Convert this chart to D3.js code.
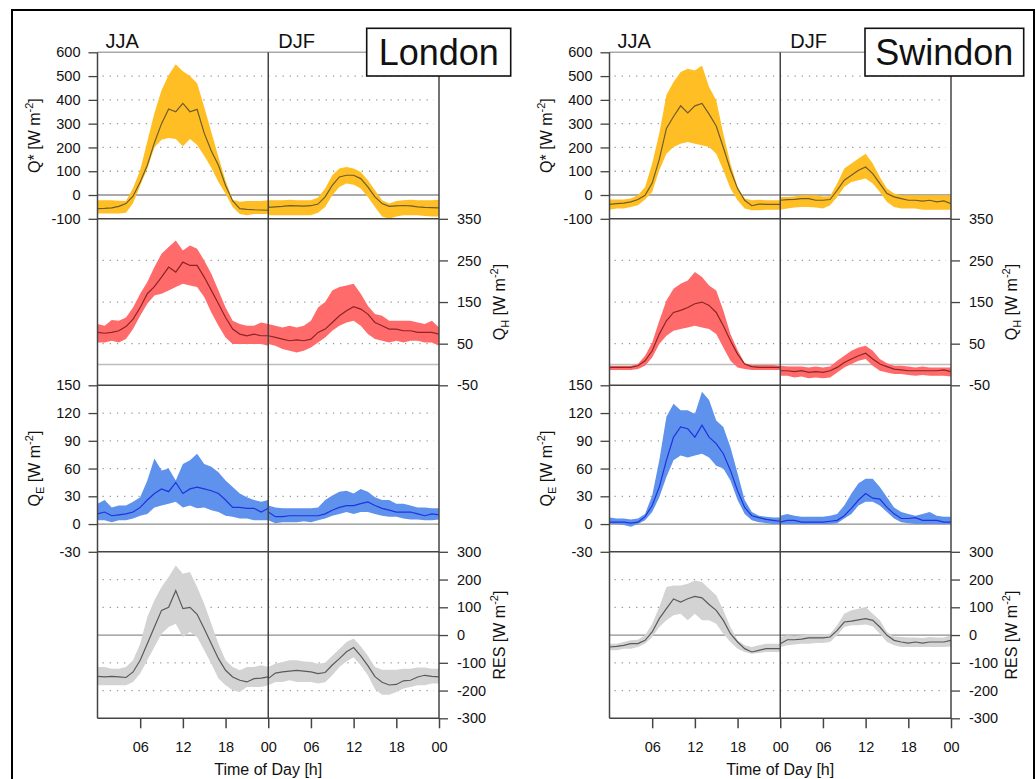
<!DOCTYPE html>
<html>
<head>
<meta charset="utf-8">
<script src="https://cdnjs.cloudflare.com/ajax/libs/d3/7.8.5/d3.min.js"></script>
<style>
	body { margin: 0; background: #fff; }
	svg text { font-family: "Liberation Sans", Arial, Helvetica, sans-serif; fill: #111; }
</style>
</head>
<body>
<svg id="chart" width="1036" height="779"></svg>
<script>
// hour of day, one value per hour (00 .. 24)
const hours = [0, 1, 2, 3, 4, 5, 6, 7, 8, 9, 10, 11, 12, 13, 14, 15, 16, 17, 18, 19, 20, 21, 22, 23, 24]

const hourTicks = [6, 12, 18, 24, 30, 36, 42, 48]
const hourLabels = ['06', '12', '18', '00', '06', '12', '18', '00']
const qsTicks = [-100, 0, 100, 200, 300, 400, 500, 600]
const qhTicks = [-50, 50, 150, 250, 350]
const qeTicks = [-30, 0, 30, 60, 90, 120, 150]
const resTicks = [-300, -200, -100, 0, 100, 200, 300]

// ---- London ----
const lonQsJjaMid = [-57, -56, -54, -48, -36, -5, 55, 125, 220, 300, 362, 350, 385, 350, 360, 260, 185, 125, 40, -25, -57, -60, -62, -63, -64]
const lonQsJjaHi = [-22, -22, -22, -24, -25, 30, 105, 225, 345, 440, 505, 550, 520, 500, 470, 370, 265, 160, 60, -20, -28, -25, -25, -25, -22]
const lonQsJjaLo = [-78, -78, -78, -78, -75, -35, 40, 110, 200, 232, 240, 235, 205, 235, 210, 165, 115, 55, 5, -50, -80, -85, -80, -80, -80]
const lonQsDjfMid = [-52, -50, -48, -45, -46, -47, -45, -38, -8, 41, 76, 83, 83, 69, 34, -8, -36, -48, -46, -44, -46, -50, -52, -53, -54]
const lonQsDjfHi = [-22, -22, -22, -20, -22, -22, -22, -10, 27, 83, 111, 118, 111, 97, 62, 20, -22, -36, -25, -22, -20, -22, -22, -22, -20]
const lonQsDjfLo = [-85, -85, -85, -85, -85, -85, -85, -75, -50, -1, 34, 48, 43, 27, -8, -50, -90, -100, -90, -85, -85, -85, -88, -90, -90]

const lonQhJjaMid = [77, 75, 77, 81, 91, 109, 137, 170, 187, 210, 234, 222, 246, 238, 238, 210, 178, 146, 113, 85, 73, 69, 73, 69, 69]
const lonQhJjaHi = [97, 93, 107, 105, 113, 137, 170, 198, 234, 266, 282, 298, 274, 286, 278, 250, 218, 178, 137, 105, 97, 93, 93, 101, 97]
const lonQhJjaLo = [53, 53, 57, 53, 61, 85, 117, 146, 166, 170, 178, 186, 194, 190, 186, 162, 125, 93, 65, 49, 49, 49, 49, 49, 45]
const lonQhDjfMid = [69, 65, 61, 57, 59, 57, 61, 77, 85, 101, 117, 129, 139, 133, 121, 101, 93, 85, 85, 81, 81, 77, 77, 77, 73]
const lonQhDjfHi = [97, 93, 89, 93, 89, 93, 105, 137, 150, 178, 186, 190, 194, 170, 141, 121, 117, 105, 105, 105, 105, 101, 97, 105, 89]
const lonQhDjfLo = [49, 45, 37, 33, 29, 33, 41, 53, 65, 81, 93, 101, 105, 93, 73, 61, 57, 53, 57, 53, 57, 57, 53, 53, 45]

const lonQeJjaMid = [11, 13, 9, 10, 11, 13, 18, 26, 33, 38, 35, 45, 33, 38, 40, 38, 36, 33, 26, 18, 18, 17, 17, 13, 17]
const lonQeJjaHi = [22, 26, 18, 20, 20, 24, 29, 47, 71, 58, 60, 47, 65, 69, 76, 65, 62, 56, 47, 40, 33, 29, 26, 24, 26]
const lonQeJjaLo = [4, 4, 2, 4, 4, 6, 9, 11, 18, 20, 22, 24, 18, 20, 17, 18, 15, 13, 9, 8, 6, 6, 4, 4, 4]
const lonQeDjfMid = [13, 8, 8, 9, 9, 9, 9, 9, 11, 15, 18, 20, 20, 22, 24, 20, 17, 15, 13, 13, 13, 11, 9, 11, 10]
const lonQeDjfHi = [20, 18, 17, 17, 17, 17, 17, 18, 26, 31, 35, 36, 33, 38, 35, 29, 26, 26, 22, 22, 20, 18, 18, 17, 17]
const lonQeDjfLo = [4, 1, 2, 2, 2, 3, 2, 4, 6, 9, 11, 13, 11, 13, 13, 11, 9, 8, 8, 6, 5, 5, 4, 4, 5]

const lonResJjaMid = [-149, -151, -149, -151, -153, -133, -91, -31, 29, 89, 100, 160, 95, 100, 75, 23, -31, -85, -127, -151, -163, -169, -157, -155, -151]
const lonResJjaHi = [-115, -115, -121, -121, -115, -91, -31, 65, 125, 173, 209, 251, 221, 227, 173, 113, 41, -31, -91, -115, -127, -115, -115, -109, -115]
const lonResJjaLo = [-181, -181, -181, -181, -181, -169, -139, -91, -43, 5, 29, 41, -7, 11, -7, -55, -103, -157, -181, -199, -205, -187, -187, -187, -181]
const lonResDjfMid = [-157, -137, -133, -130, -127, -130, -133, -139, -135, -108, -85, -60, -45, -75, -110, -150, -170, -180, -178, -165, -163, -151, -145, -149, -151]
const lonResDjfHi = [-115, -103, -97, -91, -91, -95, -97, -103, -100, -75, -50, -25, -12, -40, -75, -115, -125, -125, -125, -121, -121, -117, -117, -121, -121]
const lonResDjfLo = [-181, -169, -169, -163, -169, -169, -169, -175, -170, -145, -115, -95, -80, -110, -145, -195, -215, -215, -205, -193, -187, -181, -181, -175, -175]

// ---- Swindon ----
const swiQsJjaMid = [-39, -36, -34, -29, -19, -1, 50, 150, 280, 330, 375, 345, 375, 385, 340, 290, 200, 105, 27, -22, -45, -38, -39, -39, -39]
const swiQsJjaHi = [-19, -19, -19, -15, -1, 34, 132, 260, 420, 475, 517, 531, 524, 545, 454, 398, 258, 132, 34, -15, -22, -20, -22, -22, -22]
const swiQsJjaLo = [-62, -57, -57, -50, -43, -19, 13, 104, 174, 202, 216, 223, 216, 209, 202, 174, 104, 27, -22, -57, -64, -64, -62, -62, -62]
const swiQsDjfMid = [-22, -19, -18, -15, -15, -22, -22, -19, 20, 62, 83, 104, 118, 90, 48, 6, -8, -15, -22, -22, -26, -22, -29, -25, -36]
const swiQsDjfHi = [-8, -8, -6, -1, -1, -1, -6, -5, 48, 111, 132, 153, 174, 132, 76, 27, 6, -1, -1, -1, -1, -1, -1, -1, -1]
const swiQsDjfLo = [-62, -57, -53, -50, -50, -53, -57, -43, -8, 34, 55, 62, 69, 48, 13, -29, -50, -57, -57, -57, -62, -62, -62, -62, -62]

const swiQhJjaMid = [-7, -7, -7, -7, -3, 9, 33, 73, 105, 125, 130, 137, 146, 150, 142, 125, 93, 57, 25, 1, -5, -7, -7, -7, -7]
const swiQhJjaHi = [-3, -3, -3, -3, 1, 21, 53, 105, 154, 182, 194, 202, 222, 210, 190, 178, 130, 73, 35, 3, -1, -1, -1, -1, -3]
const swiQhJjaLo = [-13, -13, -13, -13, -11, -3, 17, 49, 69, 81, 85, 89, 93, 89, 85, 73, 41, 9, -7, -11, -13, -13, -13, -13, -13]
const swiQhDjfMid = [-15, -15, -17, -15, -19, -17, -19, -15, -7, 5, 13, 21, 27, 13, 1, -5, -11, -13, -15, -15, -15, -15, -15, -13, -17]
const swiQhDjfHi = [-3, -5, -5, -5, -7, -5, -7, -5, 9, 21, 33, 41, 45, 33, 13, 3, -3, -3, -5, -7, -5, -7, -7, -7, -7]
const swiQhDjfLo = [-27, -27, -31, -29, -33, -31, -33, -31, -19, -7, 1, 9, 13, -3, -15, -19, -23, -23, -25, -27, -25, -27, -27, -27, -29]

const swiQeJjaMid = [2, 2, 2, 1, 2, 8, 20, 40, 69, 94, 105, 103, 94, 107, 94, 87, 76, 58, 36, 18, 9, 7, 5, 4, 3]
const swiQeJjaHi = [7, 6, 6, 5, 6, 11, 31, 69, 116, 130, 123, 123, 119, 143, 134, 112, 105, 83, 55, 26, 13, 9, 8, 7, 7]
const swiQeJjaLo = [0, 0, -1, -3, 0, 4, 13, 29, 51, 69, 74, 72, 74, 76, 72, 63, 60, 47, 26, 11, 4, 2, 1, 0, 0]
const swiQeDjfMid = [2, 4, 4, 2, 2, 2, 2, 3, 4, 9, 17, 26, 33, 28, 27, 18, 11, 6, 6, 7, 4, 4, 4, 2, 2]
const swiQeDjfHi = [9, 11, 9, 8, 8, 8, 8, 9, 11, 20, 33, 44, 49, 49, 40, 29, 18, 13, 11, 9, 11, 13, 9, 8, 8]
const swiQeDjfLo = [0, 0, 0, 0, 0, 0, 0, 0, 1, 6, 11, 20, 24, 24, 20, 13, 6, 2, 1, 0, 0, 0, 0, 0, 0]

const swiResJjaMid = [-43, -41, -37, -31, -31, -19, 11, 59, 95, 130, 119, 131, 139, 134, 110, 89, 53, 5, -25, -49, -61, -55, -49, -49, -49]
const swiResJjaHi = [-31, -31, -25, -19, -17, -1, 41, 101, 173, 179, 179, 185, 197, 191, 167, 143, 89, 29, -19, -37, -43, -37, -31, -31, -31]
const swiResJjaLo = [-55, -55, -49, -49, -43, -31, -7, 29, 53, 71, 77, 53, 77, 53, 53, 41, 5, -25, -49, -61, -67, -65, -61, -61, -61]
const swiResDjfMid = [-31, -17, -17, -15, -10, -10, -10, -7, 17, 47, 50, 55, 59, 53, 29, -1, -19, -25, -29, -25, -29, -25, -25, -25, -19]
const swiResDjfHi = [-7, -1, -3, -1, 3, 3, 3, 5, 35, 77, 89, 95, 101, 77, 53, 11, -5, -7, -9, -9, -11, -7, -9, -9, -1]
const swiResDjfLo = [-43, -37, -34, -31, -31, -29, -29, -25, -1, 29, 35, 35, 38, 32, 5, -25, -37, -43, -43, -43, -43, -43, -43, -43, -41]

// panels, top to bottom
const panels = [
	{ key: 'qs', ticks: qsTicks, side: 'left', name: 'Q*', sub: '', fill: '#ffbf24', stroke: '#6e5c2c' },
	{ key: 'qh', ticks: qhTicks, side: 'right', name: 'Q', sub: 'H', fill: '#ff6b6b', stroke: '#8e2424' },
	{ key: 'qe', ticks: qeTicks, side: 'left', name: 'Q', sub: 'E', fill: '#5e92ec', stroke: '#1f33e0' },
	{ key: 'res', ticks: resTicks, side: 'right', name: 'RES', sub: '', fill: '#d3d3d3', stroke: '#5a5a5a' },
]

const sites = [
	{
		name: 'London', ox: 97.5, box: [366.7, 28.3, 144, 47.7],
		qs: { jja: [lonQsJjaLo, lonQsJjaMid, lonQsJjaHi], djf: [lonQsDjfLo, lonQsDjfMid, lonQsDjfHi] },
		qh: { jja: [lonQhJjaLo, lonQhJjaMid, lonQhJjaHi], djf: [lonQhDjfLo, lonQhDjfMid, lonQhDjfHi] },
		qe: { jja: [lonQeJjaLo, lonQeJjaMid, lonQeJjaHi], djf: [lonQeDjfLo, lonQeDjfMid, lonQeDjfHi] },
		res: { jja: [lonResJjaLo, lonResJjaMid, lonResJjaHi], djf: [lonResDjfLo, lonResDjfMid, lonResDjfHi] },
	},
	{
		name: 'Swindon', ox: 609.5, box: [865, 28.3, 158.7, 47.7],
		qs: { jja: [swiQsJjaLo, swiQsJjaMid, swiQsJjaHi], djf: [swiQsDjfLo, swiQsDjfMid, swiQsDjfHi] },
		qh: { jja: [swiQhJjaLo, swiQhJjaMid, swiQhJjaHi], djf: [swiQhDjfLo, swiQhDjfMid, swiQhDjfHi] },
		qe: { jja: [swiQeJjaLo, swiQeJjaMid, swiQeJjaHi], djf: [swiQeDjfLo, swiQeDjfMid, swiQeDjfHi] },
		res: { jja: [swiResJjaLo, swiResJjaMid, swiResJjaHi], djf: [swiResDjfLo, swiResDjfMid, swiResDjfHi] },
	},
]

const svg = d3.select('#chart')
const W = 341.5
const top0 = 52.3
const ph = 166.5
const axisCol = '#444'

// outer frame
svg.append('rect')
	.attr('x', 12).attr('y', 10)
	.attr('width', 1022).attr('height', 800)
	.attr('fill', 'none').attr('stroke', '#000').attr('stroke-width', 2)

sites.forEach((site, si) => {
	const g = svg.append('g')
	const x = d3.scaleLinear().domain([0, 48]).range([site.ox, site.ox + W])

	panels.forEach((p, pi) => {
		const y0 = top0 + pi * ph
		const dom = [p.ticks[0], p.ticks[p.ticks.length - 1]]
		const y = d3.scaleLinear().domain(dom).range([y0 + ph, y0])
		const clipId = `clip-${si}-${pi}`
		g.append('clipPath').attr('id', clipId)
			.append('rect').attr('x', x(0)).attr('y', y0).attr('width', W).attr('height', ph)

		// dotted grid
		const inner = p.ticks.filter((t) => t !== 0 && t !== dom[0] && t !== dom[1])
		g.append('g').selectAll('line').data(inner).enter().append('line')
			.attr('x1', x(0) + 5).attr('x2', x(48) - 5)
			.attr('y1', (d) => y(d)).attr('y2', (d) => y(d))
			.attr('stroke', '#9a9a9a').attr('stroke-width', 1.3)
			.attr('stroke-dasharray', '1.3,5.9')

		// zero line
		g.append('line')
			.attr('x1', x(0)).attr('x2', x(48))
			.attr('y1', y(0)).attr('y2', y(0))
			.attr('stroke', pi === 1 ? '#bdbdbd' : '#8e8e8e').attr('stroke-width', 1.3)

		const pg = g.append('g').attr('clip-path', `url(#${clipId})`)
		;[['jja', 0], ['djf', 24]].forEach(([season, off]) => {
			const [lo, mid, hi] = site[p.key][season]
			const area = d3.area()
				.x((d, j) => x(hours[j] + off))
				.y0((d, j) => y(lo[j]))
				.y1((d, j) => y(hi[j]))
			const line = d3.line()
				.x((d, j) => x(hours[j] + off))
				.y((d) => y(d))
			pg.append('path').datum(mid).attr('d', area).attr('fill', p.fill)
			pg.append('path').datum(mid).attr('d', line)
				.attr('fill', 'none').attr('stroke', p.stroke).attr('stroke-width', 1.2)
		})

		// y axis
		const left = p.side === 'left'
		const ax = (left ? d3.axisLeft(y) : d3.axisRight(y))
			.tickValues(p.ticks).tickSize(9).tickSizeOuter(0).tickPadding(left ? 8 : 9)
			.tickFormat((d) => String(d))
		const ag = g.append('g')
			.attr('transform', `translate(${left ? x(0) : x(48)},0)`)
			.call(ax)
		ag.select('.domain').remove()
		ag.attr('font-size', 14.5).attr('color', '#111')
		ag.selectAll('.tick line').attr('stroke', axisCol).attr('stroke-width', 1.3)

		// axis title
		const tx = left ? site.ox - 57.5 : site.ox + W + 66
		const t = g.append('text')
			.attr('transform', `translate(${tx},${y0 + ph / 2}) rotate(-90)`)
			.attr('text-anchor', 'middle')
			.attr('font-size', 16)
		t.append('tspan').text(p.name)
		if (p.sub) {
			t.append('tspan').attr('font-size', 11).attr('dy', 4).text(p.sub)
			t.append('tspan').attr('dy', -4).text(' [W m')
		} else {
			t.append('tspan').text(' [W m')
		}
		t.append('tspan').attr('font-size', 11).attr('dy', -7).text('-2')
		t.append('tspan').attr('dy', 7).text(']')

		// horizontal frame line at the panel top
		g.append('line')
			.attr('x1', x(0)).attr('x2', x(48))
			.attr('y1', y0).attr('y2', y0)
			.attr('stroke', pi === 0 ? '#a8a8a8' : axisCol).attr('stroke-width', 1.5)
	})

	// bottom line
	const yb = top0 + 4 * ph
	g.append('line')
		.attr('x1', x(0)).attr('x2', x(48))
		.attr('y1', yb).attr('y2', yb)
		.attr('stroke', axisCol).attr('stroke-width', 1.5)

	// vertical lines: left axis, season split, right axis
	g.selectAll('.vline').data([0, 24, 48]).enter().append('line')
		.attr('x1', (d) => x(d)).attr('x2', (d) => x(d))
		.attr('y1', top0).attr('y2', yb)
		.attr('stroke', axisCol).attr('stroke-width', 1.5)

	// x axis
	const xa = g.append('g')
		.attr('transform', `translate(0,${yb})`)
		.call(d3.axisBottom(x).tickValues(hourTicks).tickSize(10).tickPadding(13)
			.tickFormat((d, i) => hourLabels[i]))
	xa.select('.domain').remove()
	xa.attr('font-size', 14.5).attr('color', '#111')
	xa.selectAll('.tick line').attr('stroke', axisCol).attr('stroke-width', 1.5)

	g.append('text')
		.attr('x', x(24)).attr('y', 775)
		.attr('text-anchor', 'middle').attr('font-size', 16)
		.text('Time of Day [h]')

	// season labels
	g.append('text').attr('x', x(0) + 8).attr('y', 48).attr('font-size', 20).text('JJA')
	g.append('text').attr('x', x(24) + 10).attr('y', 48).attr('font-size', 20).text('DJF')

	// site name box
	const [bx, by, bw, bh] = site.box
	g.append('rect')
		.attr('x', bx).attr('y', by).attr('width', bw).attr('height', bh)
		.attr('fill', '#fff').attr('stroke', '#111').attr('stroke-width', 1.6)
	g.append('text')
		.attr('x', bx + bw / 2).attr('y', by + bh / 2 + 13)
		.attr('text-anchor', 'middle').attr('font-size', 36)
		.text(site.name)
})
</script>
</body>
</html>
